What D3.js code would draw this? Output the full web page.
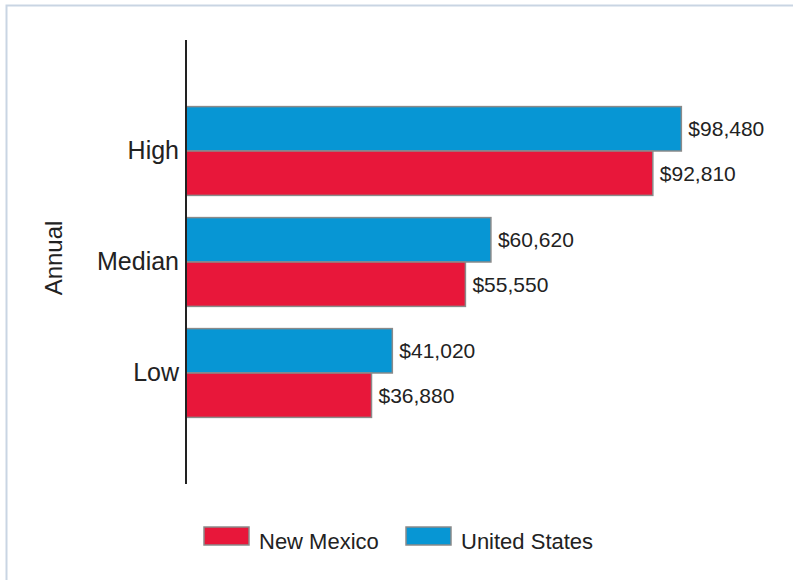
<!DOCTYPE html>
<html><head><meta charset="utf-8">
<script src="https://cdn.jsdelivr.net/npm/d3@7"></script>
<style>body{margin:0;background:#fff}svg{display:block;font-family:"Liberation Sans",Arial,sans-serif}</style>
</head><body><svg id="c" width="793" height="580"></svg>
<script>
const categories = ["High", "Median", "Low"];
const seriesNames = ["United States", "New Mexico"];
const unitedStates = [98480, 60620, 41020];
const newMexico = [92810, 55550, 36880];
const legendOrder = ["New Mexico", "United States"];
const colors = {"New Mexico": "#e8173a", "United States": "#0796d4"};

const svg = d3.select("#c");
svg.append("rect").attr("x", 6.5).attr("y", 5.5).attr("width", 820).attr("height", 620)
  .attr("fill", "#fff").attr("stroke", "#c9d5e3").attr("stroke-width", 2);

const x = d3.scaleLinear().domain([0, 100000]).range([186, 689]);
const y = d3.scaleBand().domain(categories).range([40, 484]).paddingInner(0.2).paddingOuter(0.6);
const ys = d3.scaleBand().domain(seriesNames).range([0, y.bandwidth()]);

const data = [];
categories.forEach((c, i) => {
  data.push({cat: c, s: "United States", v: unitedStates[i]});
  data.push({cat: c, s: "New Mexico", v: newMexico[i]});
});
const fmt = d3.format("$,");

svg.selectAll("rect.bar").data(data).join("rect").attr("class", "bar")
  .attr("x", x(0)).attr("y", d => y(d.cat) + ys(d.s))
  .attr("width", d => x(d.v) - x(0)).attr("height", ys.bandwidth())
  .attr("fill", d => colors[d.s]).attr("stroke", "#8a8a8a").attr("stroke-width", 1.5);

svg.selectAll("text.val").data(data).join("text").attr("class", "val")
  .attr("x", d => x(d.v) + 7).attr("y", d => y(d.cat) + ys(d.s) + ys.bandwidth() / 2)
  .attr("dy", "0.36em").attr("font-size", 21).attr("fill", "#222").text(d => fmt(d.v));

const yAxis = d3.axisLeft(y).tickSize(0).tickPadding(7);
const g = svg.append("g").attr("transform", `translate(${x(0)},0)`).call(yAxis);
g.select(".domain").attr("d", "M0,40V484").attr("stroke", "#222").attr("stroke-width", 2);
g.selectAll("text").attr("font-size", 25).attr("fill", "#222").attr("font-family", "Liberation Sans, Arial, sans-serif");

svg.append("text").attr("transform", "translate(62,258) rotate(-90)")
  .attr("text-anchor", "middle").attr("font-size", 24).attr("fill", "#222").text("Annual");

const lx = [204, 406];
legendOrder.forEach((n, i) => {
  svg.append("rect").attr("x", lx[i]).attr("y", 527).attr("width", 45).attr("height", 18)
    .attr("fill", colors[n]).attr("stroke", "#8a8a8a").attr("stroke-width", 1.5);
  svg.append("text").attr("x", lx[i] + 55).attr("y", 549)
    .attr("font-size", 22).attr("fill", "#222").text(n);
});
</script></body></html>
